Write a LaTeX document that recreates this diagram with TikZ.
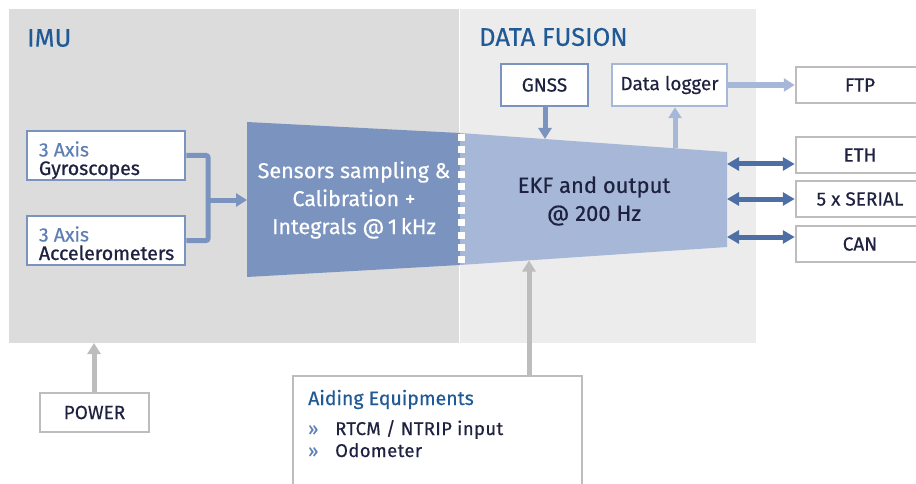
\documentclass[tikz,border=0pt]{standalone}
\usepackage{fontspec}
\setmainfont{Fira Sans}[FakeBold=0.35]
\newfontfamily\heavierfont{Fira Sans}[FakeBold=0.9]
\usetikzlibrary{arrows.meta}
\definecolor{panelA}{HTML}{DCDCDC}
\definecolor{panelB}{HTML}{ECECEC}
\definecolor{titleblue}{HTML}{1F5A96}
\definecolor{midblue}{HTML}{7B93BF}
\definecolor{lightblue}{HTML}{A7B7D7}
\definecolor{darkarrow}{HTML}{4E6FA5}
\definecolor{axisblue}{HTML}{5E7FB5}
\definecolor{navytext}{HTML}{1E2140}
\definecolor{graybox}{HTML}{BDBDBD}
\tikzset{
  titletext/.style={text=titleblue, font=\fontsize{25.5}{28}\selectfont, inner sep=0pt},
  whitebox/.style={draw=#1, fill=white, line width=2.5pt, inner sep=0pt, text=navytext,
    font=\fontsize{19}{22}\selectfont},
  sensorbox/.style={whitebox=midblue, minimum width=158pt, minimum height=49pt},
  sensortext/.style={anchor=base west, inner sep=0pt, font=\fontsize{19.5}{20}\selectfont},
  graynode/.style={whitebox=graybox, minimum height=36pt, minimum width=128pt},
  thickconn/.style={line width=5pt, draw=#1},
  headarrow/.style={-{Triangle[length=11pt,width=13pt]}},
  dblarrow/.style={{Triangle[length=12pt,width=13pt]}-{Triangle[length=12pt,width=13pt]}, line width=5pt, draw=darkarrow},
}
\begin{document}
\begin{tikzpicture}[x=1pt,y=-1pt]
\useasboundingbox (0,0) rectangle (916,484);
% panels
\fill[panelA] (9,9) rectangle (459,343);
\fill[panelB] (460,9) rectangle (756,343);
\node[titletext, anchor=west] (timu) at (27,38) {IMU};
\node[titletext, anchor=west] (tfus) at (479,37) {DATA FUSION};

% trapezoids
\fill[midblue] (247,122) -- (460,133) -- (460,265) -- (247,277) -- cycle;
\fill[lightblue] (460,133) -- (727,152) -- (727,247) -- (460,265) -- cycle;
\draw[white, line width=7pt, dash pattern=on 7pt off 5.2pt] (461,134) -- (461,265);
\node[text=white, align=center, font=\fontsize{21.5}{28}\selectfont, inner sep=0pt] (sens) at (354,200)
  {Sensors sampling \&\\Calibration +\\Integrals @\,1\,kHz};
\node[text=navytext, align=center, font=\fontsize{22}{28}\selectfont, inner sep=0pt] (ekf) at (594,201)
  {EKF and output\\@ 200 Hz};
\coordinate (sensin) at (247,200);
\coordinate (gnssin) at (545,139);
\coordinate (dlout) at (675,148.3);
\coordinate (aidin) at (529,260.5);
\coordinate (ethout) at (727,164);
\coordinate (serout) at (727,199);
\coordinate (canout) at (727,237);
\coordinate (jn) at (208,200);

% sensor boxes
\node[sensorbox] (gyro) at (106,155.5) {};
\node[sensortext, text=axisblue] (gyro1) at ([shift={(13,1)}]gyro.west) {3 Axis};
\node[sensortext, text=navytext] (gyro2) at ([shift={(13,19.5)}]gyro.west) {\heavierfont Gyroscopes};
\node[sensorbox] (acc) at (106,240.5) {};
\node[sensortext, text=axisblue] (acc1) at ([shift={(13,1)}]acc.west) {3 Axis};
\node[sensortext, text=navytext] (acc2) at ([shift={(13,19.5)}]acc.west) {\heavierfont Accelerometers};
\draw[thickconn=midblue, rounded corners=2pt] (gyro.east) -| (jn) |- (acc.east);
\draw[thickconn=midblue, headarrow] (jn) -- (sensin);

% data fusion boxes
\node[whitebox=midblue, minimum width=87pt, minimum height=42pt] (gnss) at (544.5,85) {GNSS};
\node[whitebox=lightblue, minimum width=115pt, minimum height=42pt] (dlog) at (669.5,85) {Data logger};
\draw[thickconn=midblue, headarrow] (gnss.south -| gnssin) -- (gnssin);
\draw[thickconn=lightblue, headarrow] (dlout) -- (dlout |- dlog.south);

% outputs
\node[graynode] (ftp) at (860,85) {FTP};
\node[graynode] (eth) at (860,155) {ETH};
\node[graynode] (ser) at (860,199) {5 x SERIAL};
\node[graynode] (can) at (860,244) {CAN};
\draw[thickconn=lightblue, line width=6pt, headarrow] (dlog.east) -- (ftp.west);
\draw[dblarrow] (ethout) -- (ethout -| eth.west);
\draw[dblarrow] (serout) -- (serout -| ser.west);
\draw[dblarrow] (canout) -- (canout -| can.west);

% power
\node[whitebox=graybox, minimum width=109pt, minimum height=39pt] (power) at (94.5,412.5) {POWER};
\coordinate (powin) at (94,343);
\draw[thickconn=graybox, headarrow] (power.north -| powin) -- (powin);

% aiding
\node[whitebox=graybox, minimum width=289pt, minimum height=130pt] (aid) at (437.5,441) {};
\draw[thickconn=graybox, headarrow] (aid.north -| aidin) -- (aidin);
\node[anchor=base west, inner sep=0pt, text=titleblue, font=\fontsize{19.5}{22}\selectfont] (aidt) at (308,405) {Aiding Equipments};
\node[anchor=base west, inner sep=0pt, text=axisblue, font=\fontsize{18}{20}\selectfont] (b1) at (308,435) {»};
\node[anchor=base west, inner sep=0pt, text=navytext, font=\fontsize{18.5}{20}\selectfont\addfontfeatures{LetterSpace=2}] (t1) at (335,435) {RTCM / NTRIP input};
\node[anchor=base west, inner sep=0pt, text=axisblue, font=\fontsize{18}{20}\selectfont] (b2) at (308,457) {»};
\node[anchor=base west, inner sep=0pt, text=navytext, font=\fontsize{18.5}{20}\selectfont\addfontfeatures{LetterSpace=2}] (t2) at (335,457) {Odometer};
\end{tikzpicture}
\end{document}
